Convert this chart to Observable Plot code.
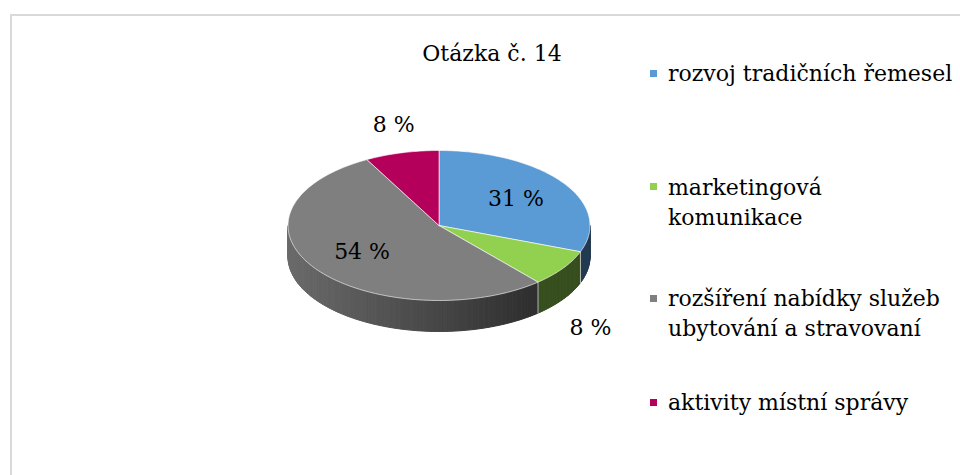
<!DOCTYPE html>
<html><head><meta charset="utf-8">
<script src="https://cdn.jsdelivr.net/npm/d3@7"></script>
<script src="https://cdn.jsdelivr.net/npm/@observablehq/plot@0.6"></script>
<style>
html,body{margin:0;padding:0;background:#fff;}
#wrap{position:relative;width:960px;height:475px;overflow:hidden;font-family:"DejaVu Serif",serif;color:#000;}
#frame{position:absolute;left:10px;top:14px;width:1000px;height:520px;border-left:2px solid #d9d9d9;border-top:2px solid #d9d9d9;box-sizing:border-box;}
#chart{position:absolute;left:0;top:0;}
#title{position:absolute;left:0;width:984px;text-align:center;font-size:22px;line-height:30px;white-space:nowrap;}
.lg{position:absolute;left:668px;font-size:22px;line-height:30px;white-space:nowrap;}
.sw{position:absolute;left:650px;width:7px;height:7px;}
</style></head><body>
<div id="wrap"><div id="frame"></div><div id="chart"></div></div>
<script>
const title = "Otázka č. 14";
const categories = [
  "rozvoj tradičních řemesel",
  "marketingová\nkomunikace",
  "rozšíření nabídky služeb\nubytování a stravovaní",
  "aktivity místní správy"
];
const values = [31, 8, 54, 8];
const colors = ["#5B9BD5", "#92D050", "#7F7F7F", "#B4005A"];

// layout (pixels)
const W = 960, H = 475;
const cx = 438.5, cy = 225, rx = 151, ry = 75, depth = 31;
const legendBaselines = [82, 195.5, 307, 411];

const total = d3.sum(values);
const arcs = d3.pie().sort(null).startAngle(0).endAngle(2 * Math.PI)(values);
const pt = (a, dz = 0, k = 1) => ({x: cx + rx * k * Math.sin(a), y: cy - ry * k * Math.cos(a) + dz});
const shade = (c, a) => {
  const f = Math.max(0.38, Math.min(0.9, 0.55 - 0.29 * Math.sin(a)));
  const r = d3.rgb(c);
  return d3.rgb(r.r * f, r.g * f, r.b * f).formatHex();
};

const topData = [], sideData = [], sepData = [], labelData = [];
const step = Math.PI / 180;
arcs.forEach((arc, i) => {
  const a0 = arc.startAngle, a1 = arc.endAngle;
  const id = "t" + i;
  topData.push({id, fill: colors[i], ...pt(0, 0, 0)});
  const n = Math.ceil((a1 - a0) / step);
  for (let j = 0; j <= n; j++) topData.push({id, fill: colors[i], ...pt(a0 + (a1 - a0) * j / n)});
  topData.push({id, fill: colors[i], ...pt(0, 0, 0)});
  const lo = Math.max(a0, Math.PI / 2), hi = Math.min(a1, 3 * Math.PI / 2);
  if (lo < hi) {
    const m = Math.ceil((hi - lo) / step);
    for (let j = 0; j < m; j++) {
      const t0 = lo + (hi - lo) * j / m, t1 = lo + (hi - lo) * (j + 1) / m;
      const sid = "s" + i + "_" + j, fill = shade(colors[i], (t0 + t1) / 2);
      [pt(t0), pt(t1), pt(t1, depth), pt(t0, depth), pt(t0)].forEach(p => sideData.push({id: sid, fill, ...p}));
    }
  }
  if (a0 > Math.PI / 2 && a0 < 3 * Math.PI / 2) {
    sepData.push({id: "e" + i, ...pt(a0)}, {id: "e" + i, ...pt(a0, depth)});
  }
  const mid = (a0 + a1) / 2, share = arc.value / total;
  let p;
  if (share >= 0.15) p = pt(mid, 0, 0.62);
  else p = {x: cx + rx * 1.22 * Math.sin(mid), y: cy - ry * 1.38 * Math.cos(mid) + (Math.cos(mid) < 0 ? 1.4 * depth : 0)};
  labelData.push({...p, text: `${arc.value} %`});
});

const chart = Plot.plot({
  width: W, height: H, margin: 0,
  style: {background: "transparent", overflow: "visible"},
  x: {domain: [0, W], range: [0, W], axis: null},
  y: {domain: [0, H], range: [0, H], axis: null},
  color: {type: "identity"},
  marks: [
    Plot.line(sideData, {x: "x", y: "y", z: "id", fill: "fill", stroke: "fill", strokeWidth: 1, curve: "linear"}),
    Plot.line(sepData, {x: "x", y: "y", z: "id", stroke: "#d8d8d8", strokeOpacity: 0.8, strokeWidth: 1}),
    Plot.line(topData, {x: "x", y: "y", z: "id", fill: "fill", stroke: "#ffffff", strokeOpacity: 0.6, strokeWidth: 1, curve: "linear"}),
    Plot.text(labelData, {x: "x", y: "y", text: "text", fontSize: 22, fontFamily: "DejaVu Serif", fill: "#000"})
  ]
});
document.getElementById("chart").appendChild(chart);

const wrap = document.getElementById("wrap");
const t = document.createElement("div");
t.id = "title"; t.textContent = title; t.style.top = (62 - 22.6) + "px";
wrap.appendChild(t);
categories.forEach((c, i) => {
  const b = legendBaselines[i];
  const sw = document.createElement("div");
  sw.className = "sw"; sw.style.background = colors[i]; sw.style.top = (b - 9 - 3.5) + "px";
  wrap.appendChild(sw);
  c.split("\n").forEach((line, k) => {
    const d = document.createElement("div");
    d.className = "lg"; d.textContent = line; d.style.top = (b - 22.6 + 30 * k) + "px";
    wrap.appendChild(d);
  });
});
</script>
</body></html>
